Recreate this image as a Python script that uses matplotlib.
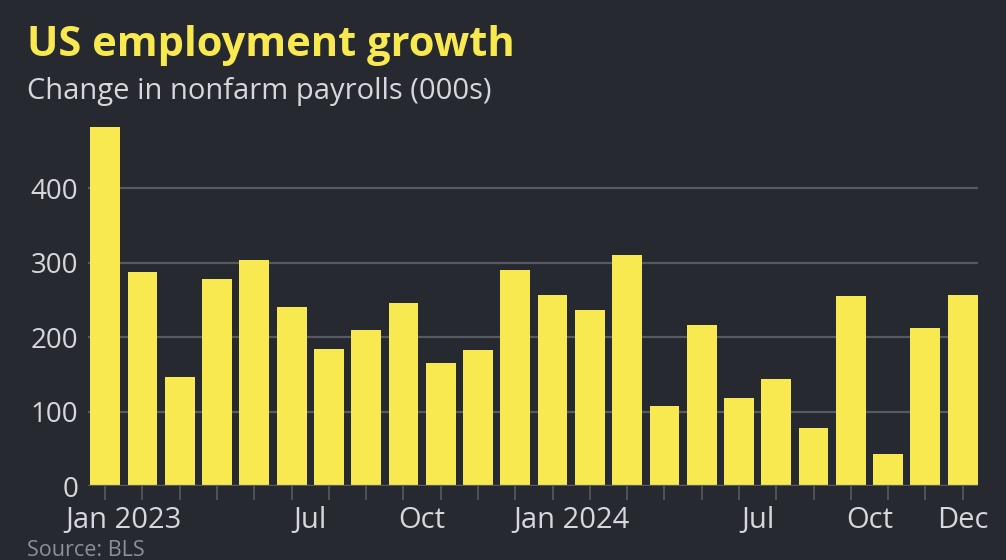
import matplotlib
matplotlib.use("Agg")
import matplotlib.pyplot as plt
import numpy as np

months = ["Jan 2023", "Feb 2023", "Mar 2023", "Apr 2023", "May 2023", "Jun 2023",
          "Jul 2023", "Aug 2023", "Sep 2023", "Oct 2023", "Nov 2023", "Dec 2023",
          "Jan 2024", "Feb 2024", "Mar 2024", "Apr 2024", "May 2024", "Jun 2024",
          "Jul 2024", "Aug 2024", "Sep 2024", "Oct 2024", "Nov 2024", "Dec 2024"]
payrolls = [482, 287, 146, 278, 303, 240, 184, 210, 246, 165, 182, 290,
            256, 236, 310, 108, 216, 118, 144, 78, 255, 43, 212, 256]
y_ticks = [0, 100, 200, 300, 400]
x_labels = ["Jan 2023", "Jul", "Oct", "Jan 2024", "Jul", "Oct", "Dec"]
x_label_month = ["Jan 2023", "Jul 2023", "Oct 2023", "Jan 2024", "Jul 2024", "Oct 2024", "Dec 2024"]

BG = "#262930"
YEL = "#f9e950"
TXT = "#d6d6dc"
GRID = "#575a61"
FONT = "Open Sans"

fig = plt.figure(figsize=(10.06, 5.6), dpi=100)
fig.patch.set_facecolor(BG)
ax = fig.add_axes([0.0875, 0.132, 0.885, 0.652])
ax.set_facecolor(BG)

x = np.arange(len(months))
ax.bar(x, payrolls, width=0.8, color=YEL, zorder=3)

ax.set_xlim(-0.46, 23.42)
ax.set_ylim(0, 490)
ax.set_yticks(y_ticks)
ax.set_yticklabels([str(v) for v in y_ticks], fontsize=20, color=TXT, family=FONT)
ax.tick_params(axis="y", length=0, pad=7)
ax.grid(axis="y", color=GRID, linewidth=1.6, zorder=1)
for s in ax.spines.values():
    s.set_visible(False)
ax.axhline(0, color=GRID, linewidth=1.6, zorder=4)

ax.set_xticks(x)
ax.set_xticklabels([])
ax.tick_params(axis="x", length=10, width=1.2, color=GRID)

offsets = {"Jan": 0.5, "Jul": -0.5, "Oct": -0.5, "Dec": 0.0}
for lab, m in zip(x_labels, x_label_month):
    i = months.index(m)
    off = offsets[m[:3]]
    ax.annotate(lab, xy=(i + off, 0), xycoords="data", xytext=(0, -42),
                textcoords="offset pixels", ha="center", va="baseline",
                fontsize=21, color=TXT, family=FONT)

fig.text(0.027, 0.9, "US employment growth", fontsize=30, fontweight="bold",
         color=YEL, family=FONT, va="baseline")
fig.text(0.027, 0.823, "Change in nonfarm payrolls (000s)", fontsize=21,
         color=TXT, family=FONT, va="baseline")
fig.text(0.027, 0.008, "Source: BLS", fontsize=15.5, color="#8e9096", family=FONT,
         va="baseline")

fig.savefig("out.png", dpi=100, facecolor=BG)
